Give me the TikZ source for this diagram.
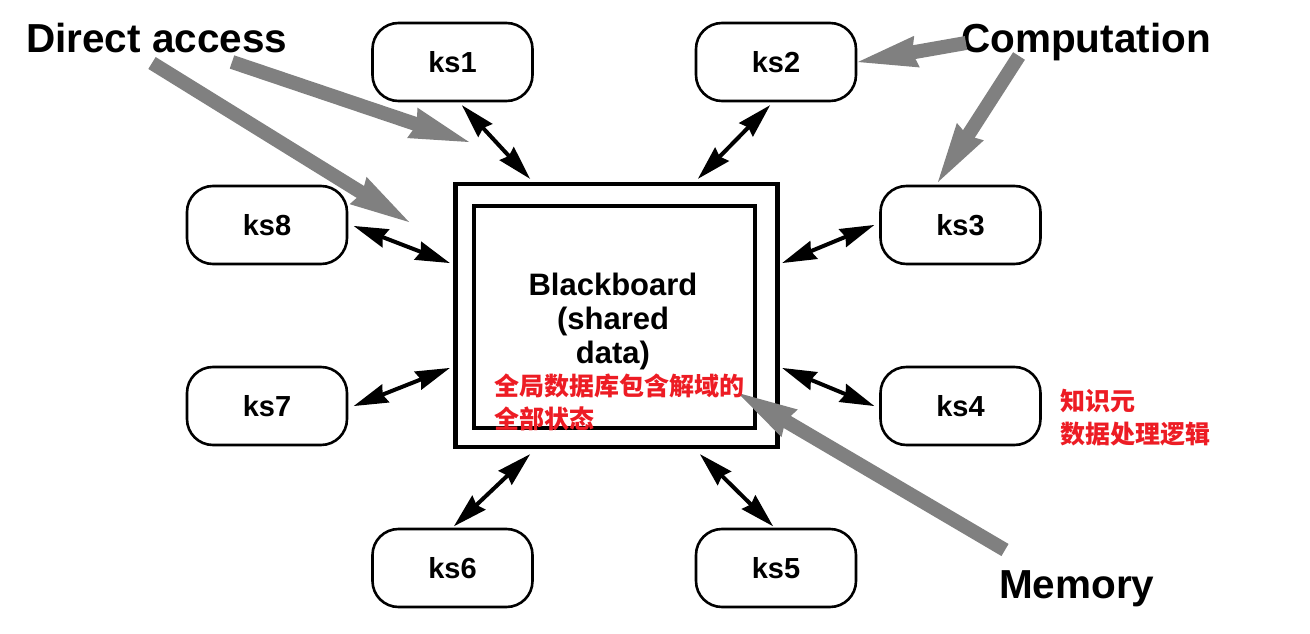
\documentclass[tikz,border=0pt]{standalone}
\usepackage{fontspec}
\setmainfont{Liberation Sans}
\newfontfamily\cjk{Noto Sans CJK SC}
\usetikzlibrary{calc}
\definecolor{arrowgray}{RGB}{128,128,128}
\definecolor{notered}{RGB}{237,28,36}
% double-headed black connector between two named points
\newcommand\twohead[2]{%
  \draw[line width=4pt] ($(#1)!30pt!(#2)$) -- ($(#2)!30pt!(#1)$);
  \fill (#1) -- ($(#1)!36pt!16:(#2)$) -- ($(#1)!31pt!(#2)$) -- ($(#1)!36pt!-16:(#2)$) -- cycle;
  \fill (#2) -- ($(#2)!36pt!16:(#1)$) -- ($(#2)!31pt!(#1)$) -- ($(#2)!36pt!-16:(#1)$) -- cycle;}
% thick grey pointer from #1 to tip #2
\newcommand\greyhead[2]{%
  \draw[arrowgray, line width=14pt] (#1) -- ($(#2)!54pt!(#1)$);
  \fill[arrowgray] (#2) -- ($(#2)!62pt!15:(#1)$) -- ($(#2)!55pt!(#1)$) -- ($(#2)!62pt!-15:(#1)$) -- cycle;}
\begin{document}
\begin{tikzpicture}[x=1pt,y=-1pt,
  ksbox/.style={draw, line width=2.6pt, rounded corners=26pt, minimum width=160pt, minimum height=78pt, inner sep=0pt, font=\fontsize{29}{32}\selectfont\bfseries},
  bbbox/.style={draw, line width=4.5pt, inner sep=0pt},
  lab/.style={font=\fontsize{40.5}{44}\selectfont\bfseries, inner sep=0pt},
  note/.style={text=notered, font=\cjk\bfseries\fontsize{25}{33}\selectfont, align=left, inner sep=0pt}
]
\useasboundingbox[fill=white] (0,0) rectangle (1310,634);

% blackboard
\node[bbbox, minimum width=322pt, minimum height=263pt] (bb) at (616.5,315.5) {};
\node[bbbox, minimum width=281pt, minimum height=222pt] (bbin) at (614.5,317) {};
\node[font=\fontsize{31}{34}\selectfont\bfseries, align=center, inner sep=0pt, anchor=north] (bbtext) at (613,273) {Blackboard\\(shared\\data)};

% knowledge sources
\node[ksbox] (ks1) at (452.5,62) {ks1};
\node[ksbox] (ks2) at (776,62) {ks2};
\node[ksbox] (ks8) at (267,225) {ks8};
\node[ksbox] (ks3) at (960.5,225) {ks3};
\node[ksbox] (ks7) at (267,406) {ks7};
\node[ksbox] (ks4) at (960.5,406) {ks4};
\node[ksbox] (ks6) at (452.5,568) {ks6};
\node[ksbox] (ks5) at (776,568) {ks5};

% connector end points
\coordinate (a1) at ($(ks1.south)+(9.5,3)$);   \coordinate (b1) at ($(bb.north)+(-86.5,-3)$);
\coordinate (a2) at ($(ks2.south)+(-6,3)$);    \coordinate (b2) at ($(bb.north)+(81.5,-3)$);
\coordinate (a8) at ($(ks8.east)+(5.5,1)$);    \coordinate (b8) at ($(bb.west)+(-3.5,-52.5)$);
\coordinate (a3) at ($(ks3.west)+(-5,0)$);     \coordinate (b3) at ($(bb.east)+(2.5,-52.5)$);
\coordinate (a7) at ($(ks7.east)+(5.5,0)$);    \coordinate (b7) at ($(bb.west)+(-3.5,52.5)$);
\coordinate (a4) at ($(ks4.west)+(-5,0)$);     \coordinate (b4) at ($(bb.east)+(2.5,52.5)$);
\coordinate (a6) at ($(ks6.north)+(1.5,-1.5)$); \coordinate (b6) at ($(bb.south)+(-86.5,5)$);
\coordinate (a5) at ($(ks5.north)+(-3,-1.5)$);  \coordinate (b5) at ($(bb.south)+(83.5,5)$);

% double arrows
\twohead{a1}{b1}
\twohead{a2}{b2}
\twohead{a8}{b8}
\twohead{a3}{b3}
\twohead{a7}{b7}
\twohead{a4}{b4}
\twohead{a6}{b6}
\twohead{a5}{b5}

% labels
\node[lab, anchor=base west] (da) at (26,53) {Direct access};
\node[lab, anchor=base west] (comp) at (961,53) {Computation};
\node[lab, anchor=base west] (mem) at (999,598) {Memory};

% grey arrows
\coordinate (s1) at ($(da.base west)+(126,10)$); \coordinate (t1) at (409,222);
\coordinate (s2) at ($(da.base west)+(206,9)$);  \coordinate (t2) at (469,142);
\coordinate (s3) at ($(comp.base west)+(5,-10)$); \coordinate (t3) at (858,62);
\coordinate (s4) at ($(comp.base west)+(58,3)$);  \coordinate (t4) at (938,182);
\coordinate (s5) at ($(mem.base west)+(6,-48)$);  \coordinate (t5) at (738,393);
\greyhead{s1}{t1}
\greyhead{s2}{t2}
\greyhead{s3}{t3}
\greyhead{s4}{t4}
\greyhead{s5}{t5}

% notes
\node[note, anchor=north west] (n1) at (494,374) {全局数据库包含解域的\\全部状态};
\node[note, anchor=north west] (n2) at (1060,389) {知识元\\数据处理逻辑};
\end{tikzpicture}
\end{document}
